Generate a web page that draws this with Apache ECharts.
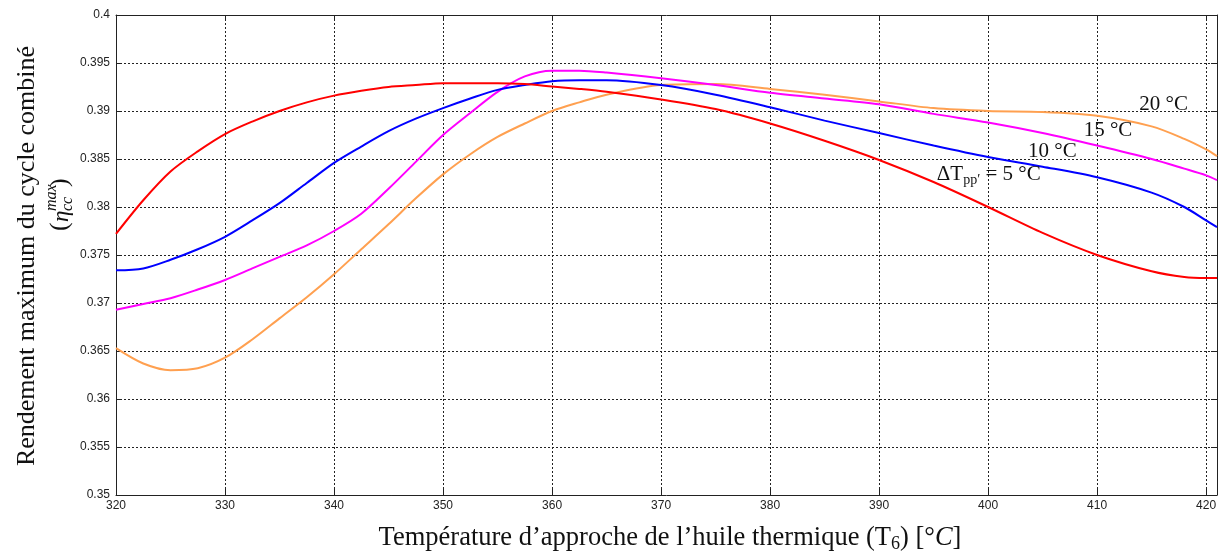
<!DOCTYPE html>
<html>
<head>
<meta charset="utf-8">
<script src="https://cdn.jsdelivr.net/npm/echarts@6/dist/echarts.min.js"></script>
<style>
  html, body { margin: 0; padding: 0; background: #fff; }
  #chart { width: 1222px; height: 555px; }
</style>
</head>
<body>
<div id="chart"></div>
<script>
// Approach temperature of the thermal oil T6 (°C)
const temps = [320, 322.5, 325, 327.5, 330, 332.5, 335, 337.5, 340, 342.5, 345, 347.5, 350, 352.5, 355, 357.5,
               360, 362.5, 365, 370, 375, 380, 385, 390, 395, 400, 405, 410, 415, 418, 420, 421];

// Maximum combined-cycle efficiency for each pinch-point difference
const eta5 = [0.3772, 0.3807, 0.3837, 0.3858, 0.3876, 0.3889, 0.3900, 0.3909, 0.3916, 0.3921, 0.3925, 0.3927, 0.3929, 0.3929, 0.3929, 0.3928,
              0.39255, 0.3923, 0.3920, 0.3912, 0.3902, 0.3887, 0.3869, 0.3849, 0.3826, 0.3800, 0.3773, 0.3750, 0.3733, 0.3727, 0.3726, 0.3726];
const eta10 = [0.3734, 0.3736, 0.3745, 0.3756, 0.3769, 0.3786, 0.3804, 0.3825, 0.3846, 0.3863, 0.3879, 0.3892, 0.3903, 0.3913, 0.3922, 0.3927,
               0.3931, 0.3932, 0.3932, 0.3927, 0.3917, 0.3904, 0.3890, 0.3877, 0.3864, 0.3852, 0.3842, 0.3831, 0.3815, 0.3800, 0.3786, 0.3779];
const eta15 = [0.3693, 0.3699, 0.3705, 0.3714, 0.3724, 0.3736, 0.3748, 0.3760, 0.3775, 0.3793, 0.3819, 0.3847, 0.3875, 0.3898, 0.3920, 0.3936,
               0.3942, 0.3942, 0.3940, 0.3934, 0.3927, 0.3919, 0.3913, 0.3907, 0.3897, 0.3888, 0.3877, 0.3864, 0.3850, 0.3840, 0.3833, 0.3828];
const eta20 = [0.3653, 0.3637, 0.3630, 0.3632, 0.3643, 0.3662, 0.3684, 0.3706, 0.3730, 0.3756, 0.3782, 0.3809, 0.3834, 0.3855, 0.3873, 0.3887,
               0.3900, 0.3909, 0.3917, 0.3927, 0.3928, 0.3923, 0.3917, 0.3910, 0.3903, 0.3900, 0.3899, 0.3895, 0.3884, 0.3871, 0.3860, 0.3853];

const curveColors = ['#ff0000', '#0000ff', '#ff00ff', '#ffa050'];
const curveNames = ['ΔTpp = 5 °C', '10 °C', '15 °C', '20 °C'];

const xTicks = [320, 330, 340, 350, 360, 370, 380, 390, 400, 410, 420];

const chart = echarts.init(document.getElementById('chart'), null, { renderer: 'canvas' });

const serif = '"Liberation Serif", "Times New Roman", serif';
const sans = '"Liberation Sans", Arial, sans-serif';

const gridLine = { show: true, lineStyle: { color: '#222', type: [2, 2], width: 1 } };
const frameLine = { show: true, onZero: false, lineStyle: { color: '#222', width: 1 } };
const tick = { show: true, inside: true, length: 6, lineStyle: { color: '#222' } };

function axisX(pos, labels) {
  return {
    type: 'value', position: pos, min: 320, max: 421, interval: 10,
    axisLine: frameLine, axisTick: tick,
    splitLine: labels ? gridLine : { show: false },
    axisLabel: labels ? {
      show: true, color: '#222', fontFamily: sans, fontSize: 12, margin: 5,
      formatter: v => (xTicks.indexOf(v) >= 0 ? String(v) : '')
    } : { show: false }
  };
}
function axisY(pos, labels) {
  return {
    type: 'value', position: pos, min: 0.35, max: 0.4, interval: 0.005,
    axisLine: frameLine, axisTick: tick,
    splitLine: labels ? gridLine : { show: false },
    axisLabel: labels ? {
      show: true, color: '#222', fontFamily: sans, fontSize: 12, margin: 6,
      formatter: v => String(Math.round(v * 1000) / 1000)
    } : { show: false }
  };
}

const seriesValues = [eta5, eta10, eta15, eta20];
const series = seriesValues.map((vals, i) => ({
  name: curveNames[i],
  type: 'line',
  xAxisIndex: 0, yAxisIndex: 0,
  data: temps.map((t, k) => [t, vals[k]]),
  smooth: 0.3,
  showSymbol: false,
  lineStyle: { color: curveColors[i], width: 2 },
  z: 5 - i
}));

chart.setOption({
  backgroundColor: '#fff',
  animation: false,
  grid: { left: 116, right: 5, top: 15, bottom: 60, containLabel: false },
  xAxis: [axisX('bottom', true), axisX('top', false)],
  yAxis: [axisY('left', true), axisY('right', false)],
  series: series
});

// Curve annotations anchored in data coordinates
const notes = [
  { t: 416.1, v: 0.39073, text: '20 °C', align: 'center' },
  { t: 411.0, v: 0.38802, text: '15 °C', align: 'center' },
  { t: 405.9, v: 0.38583, text: '10 °C', align: 'center' }
];
const graphics = notes.map(n => {
  const p = chart.convertToPixel({ xAxisIndex: 0, yAxisIndex: 0 }, [n.t, n.v]);
  return {
    type: 'text', x: p[0], y: p[1], z: 20,
    style: { text: n.text, font: '21px ' + serif, fill: '#111', align: n.align, verticalAlign: 'middle' }
  };
});
const pd = chart.convertToPixel({ xAxisIndex: 0, yAxisIndex: 0 }, [395.3, 0.38375]);
graphics.push({
  type: 'text', x: pd[0], y: pd[1] + 3, z: 20,
  style: {
    text: 'ΔT{sub|pp′} = 5 °C',
    font: '21px ' + serif, fill: '#111', align: 'left', verticalAlign: 'middle',
    lineHeight: 26,
    rich: {
      sub: { fontFamily: serif, fontSize: 14, lineHeight: 14, verticalAlign: 'bottom', fill: '#111' }
    }
  }
});

// Axis titles
graphics.push({
  type: 'text', x: 670, y: 538, z: 20,
  style: {
    text: 'Température d’approche de l’huile thermique (T{sub|6}) [°{it|C}]',
    font: '26.5px ' + serif, fill: '#111', align: 'center', verticalAlign: 'middle',
    lineHeight: 30,
    rich: {
      sub: { fontFamily: serif, fontSize: 18, lineHeight: 18, verticalAlign: 'bottom', fill: '#111' },
      it: { fontFamily: serif, fontStyle: 'italic', fontSize: 26.5, fill: '#111' }
    }
  }
});
graphics.push({
  type: 'text', x: 27, y: 256, rotation: Math.PI / 2, z: 20,
  style: {
    text: 'Rendement maximum du cycle combiné',
    font: '26px ' + serif, fill: '#111', align: 'center', verticalAlign: 'middle'
  }
});
// (η_cc^max) with stacked super/subscripts
graphics.push({
  type: 'group', x: 60, y: 208, rotation: Math.PI / 2, z: 20,
  children: [
    { type: 'text', x: -23, y: 0, style: { text: '(', font: '26px ' + serif, fill: '#111', align: 'left', verticalAlign: 'middle' } },
    { type: 'text', x: -14, y: 2, style: { text: 'η', font: 'italic 23px ' + serif, fill: '#111', align: 'left', verticalAlign: 'middle' } },
    { type: 'text', x: -3, y: -8, style: { text: 'max', font: 'italic 16px ' + serif, fill: '#111', align: 'left', verticalAlign: 'middle' } },
    { type: 'text', x: -3, y: 8, style: { text: 'cc', font: 'italic 16px ' + serif, fill: '#111', align: 'left', verticalAlign: 'middle' } },
    { type: 'text', x: 21, y: 0, style: { text: ')', font: '26px ' + serif, fill: '#111', align: 'left', verticalAlign: 'middle' } }
  ]
});

chart.setOption({ graphic: graphics });
</script>
</body>
</html>
